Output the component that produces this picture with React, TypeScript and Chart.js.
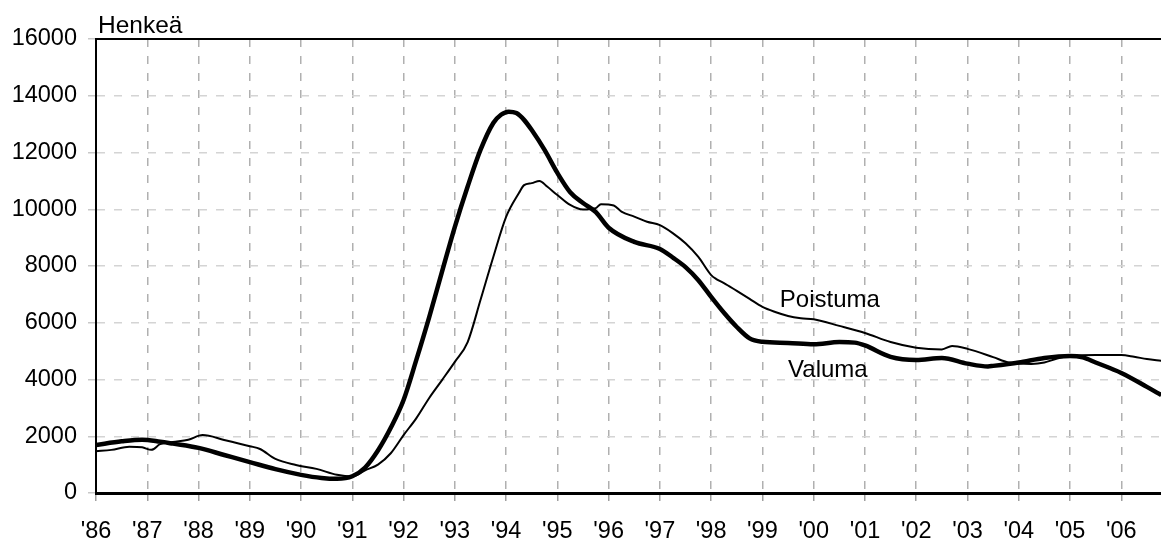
import React, { useEffect, useRef } from 'react';
import { Chart, registerables } from 'chart.js';

Chart.register(...registerables);

// ---- Data ----
const axisTitle = 'Henkeä';
const seriesNames = ['Valuma', 'Poistuma'];
const yTickValues = [0, 2000, 4000, 6000, 8000, 10000, 12000, 14000, 16000];
const xFirstYear = 1986;
const xLastYear = 2006.775;

const valumaYears = [
  1986.0, 1986.5, 1986.9, 1987.25, 1987.5, 1988.0, 1988.5, 1989.0, 1989.5, 1990.0,
  1990.4, 1990.7, 1991.0, 1991.25, 1991.5, 1991.75, 1992.0, 1992.25, 1992.5, 1992.75,
  1993.0, 1993.25, 1993.5, 1993.75, 1993.9, 1994.05, 1994.2, 1994.35, 1994.5, 1994.75,
  1995.0, 1995.25, 1995.5, 1995.75, 1996.0, 1996.5, 1997.0, 1997.25, 1997.5, 1997.75,
  1998.0, 1998.25, 1998.5, 1998.75, 1999.0, 1999.5, 2000.0, 2000.5, 2000.8, 2001.0,
  2001.5, 2002.0, 2002.5, 2003.0, 2003.4, 2003.5, 2004.0, 2004.5, 2005.0, 2005.25,
  2005.5, 2006.0, 2006.5, 2006.78,
];
const valumaValues = [
  1690, 1820, 1880, 1810, 1740, 1590, 1340, 1090, 840, 640,
  530, 500, 590, 900, 1500, 2300, 3280, 4700, 6200, 7800,
  9380, 10800, 12090, 13040, 13330, 13440, 13390, 13150, 12790, 12090,
  11280, 10600, 10220, 9900, 9350, 8850, 8600, 8300, 7960, 7500,
  6910, 6350, 5850, 5450, 5330, 5290, 5240, 5320, 5300, 5200,
  4800, 4690, 4760, 4560, 4460, 4480, 4600, 4760, 4830, 4780,
  4600, 4230, 3740, 3450,
];

const poistumaYears = [
  1986.0, 1986.3, 1986.65, 1986.9, 1987.08, 1987.25, 1987.5, 1987.8, 1988.08, 1988.5,
  1989.0, 1989.2, 1989.5, 1989.9, 1990.3, 1990.7, 1991.0, 1991.25, 1991.5, 1991.75,
  1992.0, 1992.25, 1992.5, 1992.75, 1993.0, 1993.25, 1993.5, 1993.75, 1994.0, 1994.25,
  1994.35, 1994.5, 1994.65, 1994.8, 1995.0, 1995.25, 1995.5, 1995.75, 1995.85, 1996.1,
  1996.25, 1996.5, 1996.75, 1997.0, 1997.25, 1997.5, 1997.75, 1998.0, 1998.1, 1998.25,
  1998.5, 1998.75, 1999.0, 1999.25, 1999.5, 1999.75, 2000.0, 2000.5, 2001.0, 2001.5,
  2002.0, 2002.5, 2002.7, 2003.0, 2003.5, 2003.8, 2004.0, 2004.25, 2004.5, 2004.75,
  2005.0, 2005.5, 2006.0, 2006.25, 2006.5, 2006.78,
];
const poistumaValues = [
  1470, 1520, 1630, 1610, 1520, 1720, 1800, 1880, 2040, 1870,
  1650, 1550, 1200, 990, 850, 640, 580, 800, 1000, 1400,
  2040, 2640, 3350, 3980, 4620, 5320, 6800, 8320, 9730, 10570,
  10850, 10920, 11000, 10800, 10500, 10150, 9990, 10040, 10180, 10130,
  9920, 9740, 9560, 9440, 9160, 8800, 8320, 7680, 7540, 7400,
  7120, 6840, 6560, 6380, 6240, 6160, 6120, 5890, 5640, 5320,
  5120, 5060, 5180, 5080, 4790, 4600, 4560, 4550, 4600, 4740,
  4830, 4860, 4860, 4800, 4720, 4660,
];

// Annotation anchors for the line labels (data coordinates)
const poistumaLabelAt = { x: 1999.34, y: 6555 };
const valumaLabelAt = { x: 1999.5, y: 4088 };

const FONT = '"Liberation Sans", Arial, sans-serif';

const decorPlugin = {
  id: 'decor',
  afterDraw(chart: any) {
    const { ctx, chartArea, scales } = chart;
    ctx.save();
    // top frame line
    ctx.strokeStyle = '#000';
    ctx.lineWidth = 2;
    ctx.beginPath();
    ctx.moveTo(chartArea.left - 1, chartArea.top);
    ctx.lineTo(chartArea.right, chartArea.top);
    ctx.stroke();
    // axis title
    ctx.fillStyle = '#000';
    ctx.font = `24.5px ${FONT}`;
    ctx.textAlign = 'left';
    ctx.textBaseline = 'alphabetic';
    ctx.fillText(axisTitle, chartArea.left + 2, chartArea.top - 6);
    // line labels
    ctx.font = `24px ${FONT}`;
    ctx.fillText(
      seriesNames[1],
      scales.x.getPixelForValue(poistumaLabelAt.x),
      scales.y.getPixelForValue(poistumaLabelAt.y)
    );
    ctx.fillText(
      seriesNames[0],
      scales.x.getPixelForValue(valumaLabelAt.x),
      scales.y.getPixelForValue(valumaLabelAt.y)
    );
    ctx.restore();
  },
};

export default function App() {
  const canvasRef = useRef<HTMLCanvasElement | null>(null);

  useEffect(() => {
    if (!canvasRef.current) return;
    const chart = new Chart(canvasRef.current, {
      type: 'line',
      data: {
        datasets: [
          {
            label: seriesNames[1],
            data: poistumaYears.map((x, i) => ({ x, y: poistumaValues[i] })),
            borderColor: '#000',
            borderWidth: 2,
            pointRadius: 0,
            cubicInterpolationMode: 'monotone',
            fill: false,
          },
          {
            label: seriesNames[0],
            data: valumaYears.map((x, i) => ({ x, y: valumaValues[i] })),
            borderColor: '#000',
            borderWidth: 4.5,
            pointRadius: 0,
            cubicInterpolationMode: 'monotone',
            fill: false,
          },
        ],
      },
      options: {
        responsive: false,
        animation: false,
        events: [],
        layout: { padding: { top: 39, left: 0, right: 0, bottom: 0 } },
        plugins: {
          legend: { display: false },
          tooltip: { enabled: false },
          title: { display: false },
        },
        scales: {
          x: {
            type: 'linear',
            min: xFirstYear,
            max: xLastYear,
            afterFit: (s: any) => { s.height = 46; },
            grid: {
              color: '#b0b0b0',
              lineWidth: 1.5,
              tickLength: 8,
              tickColor: '#a0a0a0',
              tickWidth: 1.5,
            },
            border: { display: true, color: '#000', width: 3, dash: [8, 9] },
            ticks: {
              stepSize: 1,
              includeBounds: false,
              autoSkip: false,
              maxRotation: 0,
              minRotation: 0,
              padding: 16,
              color: '#000',
              font: { family: FONT, size: 23.5 },
              callback: (v: any) =>
                Number.isInteger(v) ? "'" + String(v).slice(2) : '',
            },
          },
          y: {
            type: 'linear',
            min: yTickValues[0],
            max: yTickValues[yTickValues.length - 1],
            afterFit: (s: any) => { s.width = 96; },
            afterBuildTicks: (s: any) => {
              s.ticks = yTickValues.map((value) => ({ value }));
            },
            grid: {
              color: '#d4d4d4',
              lineWidth: 1.5,
              tickLength: 8,
              tickColor: '#c8c8c8',
              tickWidth: 1.5,
            },
            border: { display: true, color: '#000', width: 2, dash: [8, 9] },
            ticks: {
              padding: 11,
              color: '#000',
              font: { family: FONT, size: 23.5 },
              callback: (v: any) => String(v),
            },
          },
        },
      } as any,
      plugins: [decorPlugin],
    });
    return () => chart.destroy();
  }, []);

  return (
    <div style={{ position: 'absolute', left: 0, top: 0, width: 1161, height: 539, background: '#fff' }}>
      <canvas ref={canvasRef} width={1161} height={539} style={{ display: 'block' }} />
    </div>
  );
}
